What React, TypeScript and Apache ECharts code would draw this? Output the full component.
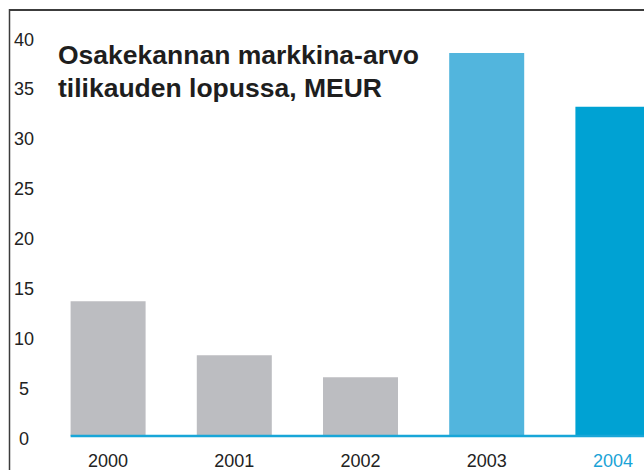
import React, { useEffect, useRef } from "react";
import * as echarts from "echarts";

const years = ["2000", "2001", "2002", "2003", "2004"];
const values = [13.5, 8.1, 5.9, 38.4, 33.0];
const barColors = ["#bcbdc1", "#bcbdc1", "#bcbdc1", "#52b5dd", "#00a2d3"];
const yTicks = [0, 5, 10, 15, 20, 25, 30, 35, 40];
const titleLines = ["Osakekannan markkina-arvo", "tilikauden lopussa, MEUR"];

const FONT = "'Liberation Sans', Arial, Helvetica, sans-serif";
const BAR_W = 75;
const CHART_W = 680;

export default function App() {
  const ref = useRef<HTMLDivElement>(null);
  useEffect(() => {
    if (!ref.current) return;
    const chart = echarts.init(ref.current, undefined, { renderer: "svg" });
    chart.setOption({
      animation: false,
      backgroundColor: "#ffffff",
      textStyle: { fontFamily: FONT },
      grid: { left: 45, right: CHART_W - 45 - 631, top: 37, bottom: 33, containLabel: false },
      xAxis: {
        type: "category",
        data: years,
        axisLine: { show: false },
        axisTick: { show: false },
        axisLabel: {
          fontSize: 18,
          fontFamily: FONT,
          margin: 16,
          color: (v: string) => (v === years[years.length - 1] ? "#1aa3d6" : "#222222"),
        },
      },
      yAxis: {
        type: "value",
        min: yTicks[0],
        max: yTicks[yTicks.length - 1],
        interval: 5,
        splitLine: { show: false },
        axisLine: { show: false },
        axisTick: { show: false },
        axisLabel: {
          fontSize: 18,
          fontFamily: FONT,
          color: "#222222",
          align: "center",
          margin: 21,
          formatter: (v: number) => `{v|${v}}`,
          rich: {
            v: {
              fontSize: 18,
              fontFamily: FONT,
              color: "#222222",
              padding: [5, 0, 0, 0],
            },
          },
        },
      },
      series: [
        {
          type: "bar",
          barWidth: BAR_W,
          data: values.map((v, i) => ({ value: v, itemStyle: { color: barColors[i] } })),
        },
      ],
    });

    const x0 = chart.convertToPixel({ xAxisIndex: 0 }, years[0]) as number;
    const y0 = chart.convertToPixel({ yAxisIndex: 0 }, 0) as number;
    chart.setOption({
      graphic: [
        {
          type: "line",
          z: 100,
          shape: { x1: x0 - BAR_W / 2, y1: y0, x2: CHART_W, y2: y0 },
          style: { stroke: "#18a6d8", lineWidth: 2.5 },
        },
        {
          type: "line",
          z: 100,
          shape: { x1: 9, y1: 10, x2: CHART_W, y2: 10 },
          style: { stroke: "#3c3c3c", lineWidth: 2 },
        },
        {
          type: "line",
          z: 100,
          shape: { x1: 9.5, y1: 9, x2: 9.5, y2: 470 },
          style: { stroke: "#3c3c3c", lineWidth: 1.5 },
        },
        {
          type: "text",
          z: 100,
          left: 58,
          top: 38,
          style: {
            text: titleLines.join("\n"),
            font: `bold 26.5px ${FONT}`,
            fill: "#1e1e1e",
            lineHeight: 33,
          },
        },
      ],
    });
    return () => chart.dispose();
  }, []);
  return (
    <div
      style={{
        position: "fixed",
        left: 0,
        top: 0,
        width: 644,
        height: 470,
        overflow: "hidden",
      }}
    >
      <div ref={ref} style={{ width: CHART_W, height: 470 }} />
    </div>
  );
}
